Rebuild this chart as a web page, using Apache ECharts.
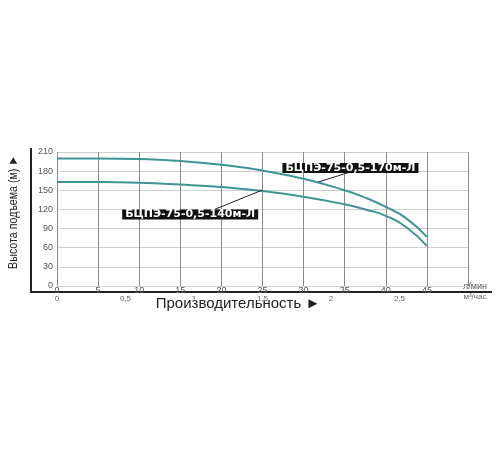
<!DOCTYPE html>
<html>
<head>
<meta charset="utf-8">
<script src="https://cdn.jsdelivr.net/npm/echarts@6/dist/echarts.min.js"></script>
<style>
  html, body { margin: 0; padding: 0; background: #fff; }
  #chart { width: 500px; height: 450px; }
</style>
</head>
<body>
<div id="chart"></div>
<script>
// расход, л/мин
var flow = [0, 5, 10, 15, 20, 25, 30, 35, 37.5, 40, 42.5, 45];
// напор, м
var head170 = [200, 200, 199, 196, 190, 181, 168, 150, 138.5, 124, 106, 77];
var head140 = [163, 163, 162, 159, 155, 149, 140, 128, 120, 110, 92, 63];

var name170 = 'БЦПЭ-75-0,5-170м-Л';
var name140 = 'БЦПЭ-75-0,5-140м-Л';

function pairs(xs, ys) {
  var out = [];
  for (var i = 0; i < xs.length; i++) {
    out.push([xs[i], ys[i]]);
  }
  return out;
}

var curveColor = '#3f9398';
var font = 'Liberation Sans, Arial, sans-serif';

var tagLabel = {
  show: true,
  color: '#fff',
  fontFamily: 'DejaVu Sans, sans-serif',
  fontWeight: 'bold',
  fontSize: 11,
  lineHeight: 10,
  backgroundColor: '#111',
  padding: [0, 3]
};

var chart = echarts.init(document.getElementById('chart'));

var option = {
  backgroundColor: '#fff',
  animation: false,
  grid: { left: 57, right: 32, top: 152, bottom: 164 },
  xAxis: [{
    type: 'value',
    min: 0,
    max: 50,
    interval: 5,
    axisLine: { show: false },
    axisTick: { show: false },
    axisLabel: {
      color: '#555',
      fontSize: 9,
      fontFamily: font,
      margin: 0,
      formatter: function (v) { return v === 50 ? '' : v; }
    },
    splitLine: { show: true, lineStyle: { color: '#8a8a8a', width: 1 } }
  }, {
    type: 'value',
    position: 'bottom',
    offset: 8,
    min: 0,
    max: 3,
    interval: 0.5,
    axisLine: { show: false },
    axisTick: { show: false },
    splitLine: { show: false },
    axisLabel: {
      color: '#666',
      fontSize: 8,
      fontFamily: font,
      margin: 1,
      formatter: function (v) { return v === 3 ? '' : String(v).replace('.', ','); }
    }
  }],
  yAxis: {
    type: 'value',
    min: 0,
    max: 210,
    interval: 30,
    axisLine: { show: false },
    axisTick: { show: false },
    axisLabel: { color: '#555', fontSize: 9, fontFamily: font, margin: 4 },
    splitLine: { show: true, lineStyle: { color: '#cfcfcf', width: 1 } }
  },
  series: [{
    name: name170,
    type: 'line',
    smooth: 0.5,
    symbol: 'none',
    data: pairs(flow, head170),
    lineStyle: { color: curveColor, width: 2 },
    markLine: {
      silent: true,
      symbol: 'none',
      label: { show: false },
      lineStyle: { color: '#222', width: 1, type: 'solid' },
      data: [[{ coord: [31.8, 163] }, { coord: [35.7, 178.7] }]]
    },
    markPoint: {
      silent: true,
      symbolSize: 0,
      label: Object.assign({ formatter: name170 }, tagLabel),
      data: [{ coord: [35.7, 185] }]
    }
  }, {
    name: name140,
    type: 'line',
    smooth: 0.5,
    symbol: 'none',
    data: pairs(flow, head140),
    lineStyle: { color: curveColor, width: 2 },
    markLine: {
      silent: true,
      symbol: 'none',
      label: { show: false },
      lineStyle: { color: '#222', width: 1, type: 'solid' },
      data: [[{ coord: [25, 150.5] }, { coord: [18.7, 117.5] }]]
    },
    markPoint: {
      silent: true,
      symbolSize: 0,
      label: Object.assign({ formatter: name140 }, tagLabel),
      data: [{ coord: [16.2, 112] }]
    }
  }],
  graphic: [
    // чёрная рамка слева и снизу
    { type: 'polyline', silent: true,
      shape: { points: [[31, 148], [31, 292], [492, 292]] },
      style: { stroke: '#222', lineWidth: 2, fill: null } },
    { type: 'text', x: 13, y: 212, rotation: Math.PI / 2, scaleX: 0.82, silent: true,
      style: { text: 'Высота подъема (м) ►', fontSize: 13, fontFamily: font,
        fill: '#222', align: 'center', verticalAlign: 'middle' } },
    { type: 'text', x: 238, y: 304, silent: true,
      style: { text: 'Производительность ►', fontSize: 15, fontFamily: font,
        fill: '#222', align: 'center', verticalAlign: 'middle' } },
    { type: 'text', x: 475, y: 287, silent: true,
      style: { text: 'л/мин', fontSize: 9, fontFamily: font, fill: '#555',
        align: 'center', verticalAlign: 'middle' } },
    { type: 'text', x: 476, y: 297, silent: true,
      style: { text: 'м³/час.', fontSize: 8, fontFamily: font, fill: '#666',
        align: 'center', verticalAlign: 'middle' } }
  ]
};

chart.setOption(option);
</script>
</body>
</html>
